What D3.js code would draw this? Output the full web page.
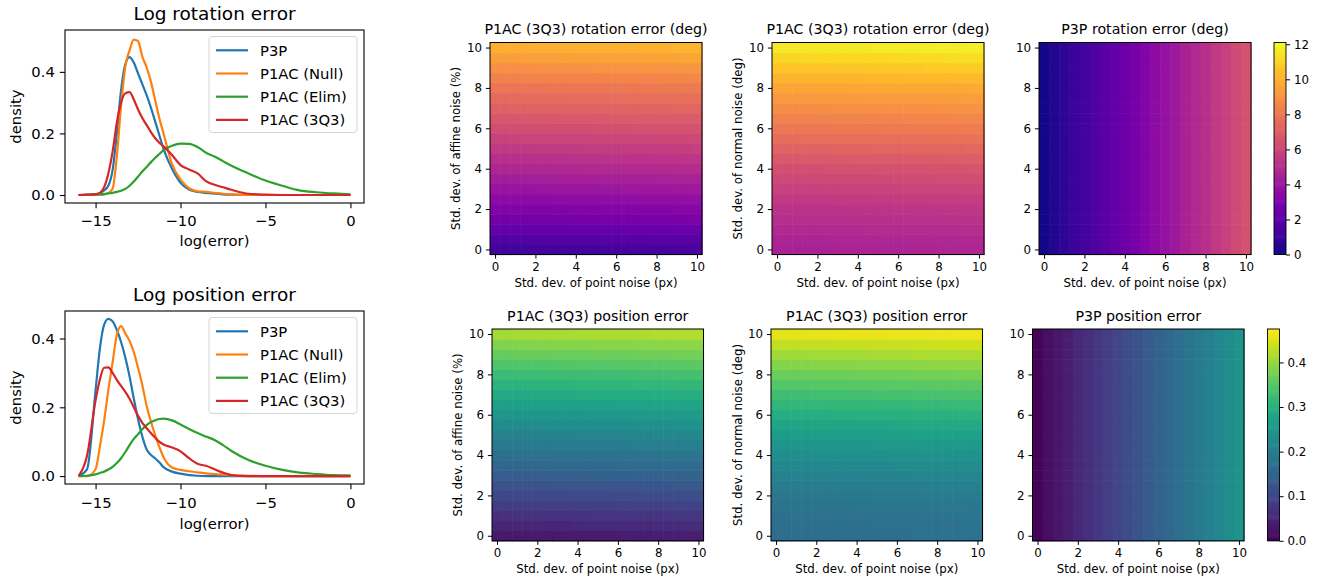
<!DOCTYPE html>
<html><head><meta charset="utf-8">
<script src="https://cdn.jsdelivr.net/npm/d3@7"></script>
<style>
body{margin:0;background:#fff}
svg{display:block}
text{font-family:"DejaVu Sans",sans-serif;fill:#000}
</style>
</head><body>
<svg id="c" width="1317" height="577"></svg>
<script>
// ---------------- DATA ----------------
const seriesNames = ["P3P", "P1AC (Null)", "P1AC (Elim)", "P1AC (3Q3)"];
const seriesColors = ["#1f77b4", "#ff7f0e", "#2ca02c", "#d62728"];

const densityX = [-16, -15.5, -15, -14.75, -14.5, -14.25, -14, -13.75, -13.5, -13.25, -13, -12.75, -12.5, -12.25, -12, -11.75, -11.5, -11.25, -11, -10.5, -10, -9.5, -9, -8.5, -8, -7.5, -7, -6, -5, -4, -3, -2, -1, 0];

// Log rotation error densities
const rotP3P  = [0, 0.001, 0.003, 0.006, 0.015, 0.03, 0.08, 0.2, 0.34, 0.425, 0.448, 0.43, 0.395, 0.36, 0.325, 0.285, 0.24, 0.195, 0.15, 0.085, 0.04, 0.018, 0.01, 0.007, 0.004, 0.002, 0.001, 0, 0, 0, 0, 0, 0, 0];
const rotNull = [0, 0, 0, 0.001, 0.002, 0.006, 0.02, 0.125, 0.29, 0.417, 0.47, 0.505, 0.5, 0.45, 0.415, 0.37, 0.31, 0.25, 0.2, 0.1, 0.05, 0.022, 0.012, 0.01, 0.007, 0.004, 0.002, 0, 0, 0, 0, 0, 0, 0];
const rotElim = [0, 0, 0.001, 0.002, 0.003, 0.005, 0.007, 0.01, 0.014, 0.02, 0.03, 0.044, 0.06, 0.076, 0.091, 0.106, 0.12, 0.133, 0.146, 0.16, 0.167, 0.166, 0.156, 0.137, 0.125, 0.11, 0.095, 0.07, 0.047, 0.03, 0.015, 0.009, 0.005, 0.002];
const rot3Q3  = [0, 0.001, 0.003, 0.007, 0.025, 0.07, 0.14, 0.235, 0.3, 0.33, 0.334, 0.31, 0.278, 0.25, 0.228, 0.205, 0.185, 0.17, 0.158, 0.13, 0.097, 0.083, 0.07, 0.045, 0.033, 0.025, 0.017, 0.004, 0.001, 0, 0, 0, 0, 0];

// Log position error densities
const posP3P  = [0, 0.02, 0.25, 0.37, 0.44, 0.457, 0.45, 0.425, 0.39, 0.345, 0.29, 0.225, 0.165, 0.115, 0.078, 0.062, 0.052, 0.04, 0.026, 0.013, 0.007, 0.003, 0.001, 0, 0, 0, 0, 0, 0, 0, 0, 0, 0, 0];
const posNull = [0, 0, 0.02, 0.085, 0.16, 0.25, 0.33, 0.41, 0.436, 0.415, 0.393, 0.36, 0.315, 0.265, 0.205, 0.16, 0.12, 0.085, 0.055, 0.025, 0.018, 0.014, 0.011, 0.008, 0.006, 0.004, 0.002, 0.001, 0, 0, 0, 0, 0, 0];
const posElim = [0, 0.001, 0.005, 0.009, 0.013, 0.019, 0.027, 0.038, 0.052, 0.07, 0.09, 0.108, 0.122, 0.136, 0.148, 0.157, 0.162, 0.166, 0.167, 0.162, 0.15, 0.137, 0.125, 0.115, 0.105, 0.09, 0.073, 0.047, 0.03, 0.018, 0.01, 0.006, 0.003, 0.002];
const pos3Q3  = [0, 0.06, 0.22, 0.28, 0.315, 0.316, 0.3, 0.28, 0.262, 0.245, 0.225, 0.2, 0.175, 0.155, 0.14, 0.125, 0.112, 0.1, 0.092, 0.083, 0.072, 0.052, 0.036, 0.03, 0.02, 0.01, 0.003, 0, 0, 0, 0, 0, 0, 0];

const densityXTicks = [-15, -10, -5, 0];
const rotDensityYTicks = [0, 0.2, 0.4];
const posDensityYTicks = [0, 0.2, 0.4];

// Heatmap grids: noise levels on both axes
const noiseLevels = [0, 0.5, 1, 1.5, 2, 2.5, 3, 3.5, 4, 4.5, 5, 5.5, 6, 6.5, 7, 7.5, 8, 8.5, 9, 9.5, 10];
const heatTicks = [0, 2, 4, 6, 8, 10];

// value = rowProfile[y index] + colProfile[x index]
const rotAffineRows = [1.2, 1.7, 2.2, 2.7, 3.1, 3.5, 3.9, 4.3, 4.7, 5.1, 5.5, 5.9, 6.3, 6.7, 7.1, 7.5, 7.9, 8.4, 8.9, 9.4, 9.9];
const rotAffineCols = [0, 0, 0, 0.02, 0.03, 0.04, 0.05, 0.06, 0.07, 0.08, 0.09, 0.1, 0.11, 0.12, 0.13, 0.14, 0.15, 0.16, 0.18, 0.2, 0.22];
const rotNormalRows = [4.5, 4.6, 4.8, 5.0, 5.2, 5.5, 5.8, 6.1, 6.4, 6.8, 7.2, 7.6, 8.0, 8.4, 8.8, 9.2, 9.6, 10.1, 10.6, 11.1, 11.6];
const rotNormalCols = [0, 0, 0, 0.01, 0.02, 0.03, 0.04, 0.05, 0.06, 0.07, 0.08, 0.09, 0.1, 0.11, 0.12, 0.13, 0.14, 0.15, 0.16, 0.18, 0.2];
const rotP3PRows = [0, 0, 0, 0, 0, 0, 0, 0, 0, 0, 0, 0, 0, 0, 0, 0, 0, 0, 0, 0, 0];
const rotP3PCols = [0.1, 0.4, 0.7, 1.0, 1.3, 1.6, 1.9, 2.2, 2.5, 2.8, 3.2, 3.5, 3.8, 4.1, 4.5, 4.8, 5.1, 5.5, 5.8, 6.2, 6.5];

const posAffineRows = [0.03, 0.048, 0.066, 0.084, 0.102, 0.12, 0.138, 0.156, 0.174, 0.192, 0.21, 0.229, 0.248, 0.267, 0.286, 0.305, 0.324, 0.343, 0.363, 0.385, 0.41];
const posAffineCols = [0, 0, 0.001, 0.001, 0.002, 0.002, 0.003, 0.003, 0.004, 0.004, 0.005, 0.005, 0.006, 0.006, 0.007, 0.007, 0.008, 0.008, 0.009, 0.009, 0.01];
const posNormalRows = [0.168, 0.17, 0.174, 0.18, 0.188, 0.197, 0.207, 0.219, 0.232, 0.246, 0.261, 0.277, 0.294, 0.311, 0.329, 0.347, 0.366, 0.386, 0.407, 0.43, 0.455];
const posNormalCols = [0, 0, 0.001, 0.001, 0.002, 0.002, 0.003, 0.003, 0.004, 0.004, 0.005, 0.005, 0.006, 0.006, 0.007, 0.007, 0.008, 0.008, 0.009, 0.009, 0.01];
const posP3PRows = [0, 0, 0, 0, 0, 0, 0, 0, 0, 0, 0, 0, 0, 0, 0, 0, 0, 0, 0, 0, 0];
const posP3PCols = [0.005, 0.017, 0.029, 0.04, 0.052, 0.064, 0.075, 0.087, 0.099, 0.11, 0.122, 0.134, 0.146, 0.158, 0.17, 0.182, 0.194, 0.206, 0.218, 0.23, 0.242];

const rotColorbarTicks = [0, 2, 4, 6, 8, 10, 12];
const posColorbarTicks = [0, 0.1, 0.2, 0.3, 0.4];

// ---------------- DRAW ----------------
const svg = d3.select("#c");
svg.append("rect").attr("width", 1317).attr("height", 577).attr("fill", "#fff");

function drawDensity(o) {
  const g = svg.append("g");
  const x = d3.scaleLinear().domain([-16.8, 0.8]).range([o.L, o.R]);
  const y = d3.scaleLinear().domain(o.yDomain).range([o.B, o.T]);
  const line = d3.line().x((d, i) => x(densityX[i])).y(d => y(d)).curve(d3.curveMonotoneX);
  o.series.forEach((s, k) => {
    g.append("path").attr("d", line(s)).attr("fill", "none")
      .attr("stroke", seriesColors[k]).attr("stroke-width", 2.2).attr("stroke-linejoin", "round");
  });
  g.append("rect").attr("x", o.L).attr("y", o.T).attr("width", o.R - o.L).attr("height", o.B - o.T)
    .attr("fill", "none").attr("stroke", "#000").attr("stroke-width", 1.1);
  const xa = g.append("g").attr("transform", `translate(0,${o.B})`)
    .call(d3.axisBottom(x).tickValues(densityXTicks).tickSize(5.2).tickFormat(d3.format("d")));
  xa.select(".domain").remove();
  xa.selectAll("line").attr("stroke", "#000").attr("stroke-width", 1.1);
  xa.selectAll("text").attr("dy", null).attr("y", o.xTickBase - o.B).attr("font-size", 14.8)
    .attr("font-family", "DejaVu Sans").attr("fill", "#000");
  const ya = g.append("g").attr("transform", `translate(${o.L},0)`)
    .call(d3.axisLeft(y).tickValues(o.yTicks).tickSize(5.2).tickPadding(5).tickFormat(d3.format(".1f")));
  ya.select(".domain").remove();
  ya.selectAll("line").attr("stroke", "#000").attr("stroke-width", 1.1);
  ya.selectAll("text").attr("font-size", 14.8).attr("font-family", "DejaVu Sans").attr("fill", "#000");
  g.append("text").attr("x", (o.L + o.R) / 2).attr("y", o.titleBase).attr("text-anchor", "middle")
    .attr("font-size", 18.5).text(o.title);
  g.append("text").attr("x", (o.L + o.R) / 2).attr("y", o.xLabelBase).attr("text-anchor", "middle")
    .attr("font-size", 14.8).text("log(error)");
  g.append("text").attr("transform", `translate(21,${(o.T + o.B) / 2}) rotate(-90)`).attr("text-anchor", "middle")
    .attr("font-size", 14.8).text("density");
  const lx = o.R - 155, ly = o.T + 6.5, lw = 148, lh = 96;
  g.append("rect").attr("x", lx).attr("y", ly).attr("width", lw).attr("height", lh).attr("rx", 3)
    .attr("fill", "#fff").attr("fill-opacity", 0.8).attr("stroke", "#d6d6d6").attr("stroke-width", 1);
  seriesNames.forEach((n, k) => {
    const cy = ly + 13.8 + k * 23.2;
    g.append("line").attr("x1", lx + 7).attr("x2", lx + 39).attr("y1", cy).attr("y2", cy)
      .attr("stroke", seriesColors[k]).attr("stroke-width", 2.2);
    g.append("text").attr("x", lx + 51).attr("y", cy + 5.3).attr("font-size", 14.8).text(n);
  });
}

drawDensity({L: 65, R: 364, T: 30, B: 203, yDomain: [-0.026, 0.536], yTicks: rotDensityYTicks,
  series: [rotP3P, rotNull, rotElim, rot3Q3], title: "Log rotation error",
  titleBase: 20, xTickBase: 226, xLabelBase: 246});
drawDensity({L: 65, R: 364, T: 311, B: 484, yDomain: [-0.023, 0.48], yTicks: posDensityYTicks,
  series: [posP3P, posNull, posElim, pos3Q3], title: "Log position error",
  titleBase: 301, xTickBase: 508, xLabelBase: 529});

function drawHeat(o) {
  const g = svg.append("g");
  const x = d3.scaleLinear().domain([-0.25, 10.25]).range([o.L, o.R]);
  const y = d3.scaleLinear().domain([-0.25, 10.25]).range([o.B, o.T]);
  const color = d3.scaleSequential(o.interp).domain([0, o.vmax]);
  const cells = [];
  noiseLevels.forEach((yv, i) => noiseLevels.forEach((xv, j) => {
    cells.push({xv, yv, v: o.rows[i] + o.cols[j]});
  }));
  g.selectAll("rect.cell").data(cells).enter().append("rect").attr("class", "cell")
    .attr("x", d => x(d.xv - 0.25)).attr("y", d => y(d.yv + 0.25))
    .attr("width", d => x(d.xv + 0.25) - x(d.xv - 0.25) + 0.6)
    .attr("height", d => y(d.yv - 0.25) - y(d.yv + 0.25) + 0.6)
    .attr("fill", d => color(d.v));
  g.append("rect").attr("x", o.L).attr("y", o.T).attr("width", o.R - o.L).attr("height", o.B - o.T)
    .attr("fill", "none").attr("stroke", "#000").attr("stroke-width", 1);
  const xa = g.append("g").attr("transform", `translate(0,${o.B})`)
    .call(d3.axisBottom(x).tickValues(heatTicks).tickSize(4.1).tickFormat(d3.format("d")));
  xa.select(".domain").remove();
  xa.selectAll("line").attr("stroke", "#000").attr("stroke-width", 1);
  xa.selectAll("text").attr("dy", null).attr("y", 16.5).attr("font-size", 11.8)
    .attr("font-family", "DejaVu Sans").attr("fill", "#000");
  const ya = g.append("g").attr("transform", `translate(${o.L},0)`)
    .call(d3.axisLeft(y).tickValues(heatTicks).tickSize(4.1).tickPadding(4).tickFormat(d3.format("d")));
  ya.select(".domain").remove();
  ya.selectAll("line").attr("stroke", "#000").attr("stroke-width", 1);
  ya.selectAll("text").attr("font-size", 11.8).attr("font-family", "DejaVu Sans").attr("fill", "#000");
  g.append("text").attr("x", (o.L + o.R) / 2).attr("y", o.T - 8.3).attr("text-anchor", "middle")
    .attr("font-size", 14.2).text(o.title);
  g.append("text").attr("x", (o.L + o.R) / 2).attr("y", o.B + 32.5).attr("text-anchor", "middle")
    .attr("font-size", 11.8).text("Std. dev. of point noise (px)");
  if (o.ylabel) {
    g.append("text").attr("transform", `translate(${o.yLabelX},${(o.T + o.B) / 2}) rotate(-90)`)
      .attr("text-anchor", "middle").attr("font-size", 11.8).text(o.ylabel);
  }
  if (o.cbL) {
    const cy = d3.scaleLinear().domain([0, o.vmax]).range([o.B, o.T]);
    const steps = d3.range(0, 200).map(k => k / 200 * o.vmax);
    g.selectAll("rect.cb").data(steps).enter().append("rect").attr("class", "cb")
      .attr("x", o.cbL).attr("width", o.cbR - o.cbL)
      .attr("y", d => cy(d + o.vmax / 200) - 0.3).attr("height", d => cy(d) - cy(d + o.vmax / 200) + 0.6)
      .attr("fill", d => color(d + o.vmax / 400));
    g.append("rect").attr("x", o.cbL).attr("y", o.T).attr("width", o.cbR - o.cbL).attr("height", o.B - o.T)
      .attr("fill", "none").attr("stroke", "#000").attr("stroke-width", 0.9);
    const ca = g.append("g").attr("transform", `translate(${o.cbR},0)`)
      .call(d3.axisRight(cy).tickValues(o.cbTicks).tickSize(4.1).tickPadding(4).tickFormat(o.cbFmt));
    ca.select(".domain").remove();
    ca.selectAll("line").attr("stroke", "#000").attr("stroke-width", 1);
    ca.selectAll("text").attr("font-size", 11.8).attr("font-family", "DejaVu Sans").attr("fill", "#000");
  }
}

const plasma = d3.interpolatePlasma, viridis = d3.interpolateViridis;
drawHeat({L: 490, R: 702, T: 42.5, B: 254.5, rows: rotAffineRows, cols: rotAffineCols, interp: plasma, vmax: 12.1,
  title: "P1AC (3Q3) rotation error (deg)", ylabel: "Std. dev. of affine noise (%)", yLabelX: 460});
drawHeat({L: 772, R: 984, T: 42.5, B: 254.5, rows: rotNormalRows, cols: rotNormalCols, interp: plasma, vmax: 12.1,
  title: "P1AC (3Q3) rotation error (deg)", ylabel: "Std. dev. of normal noise (deg)", yLabelX: 742});
drawHeat({L: 1039, R: 1251, T: 42.5, B: 254.5, rows: rotP3PRows, cols: rotP3PCols, interp: plasma, vmax: 12.1,
  title: "P3P rotation error (deg)", cbL: 1274, cbR: 1286, cbTicks: rotColorbarTicks, cbFmt: d3.format("d")});

drawHeat({L: 492, R: 703.5, T: 329, B: 540.8, rows: posAffineRows, cols: posAffineCols, interp: viridis, vmax: 0.475,
  title: "P1AC (3Q3) position error", ylabel: "Std. dev. of affine noise (%)", yLabelX: 461.5});
drawHeat({L: 771, R: 982.5, T: 329, B: 540.8, rows: posNormalRows, cols: posNormalCols, interp: viridis, vmax: 0.475,
  title: "P1AC (3Q3) position error", ylabel: "Std. dev. of normal noise (deg)", yLabelX: 742});
drawHeat({L: 1032.5, R: 1244, T: 329, B: 540.8, rows: posP3PRows, cols: posP3PCols, interp: viridis, vmax: 0.475,
  title: "P3P position error", cbL: 1267.5, cbR: 1279.5, cbTicks: posColorbarTicks, cbFmt: d3.format(".1f")});
</script>
</body></html>
